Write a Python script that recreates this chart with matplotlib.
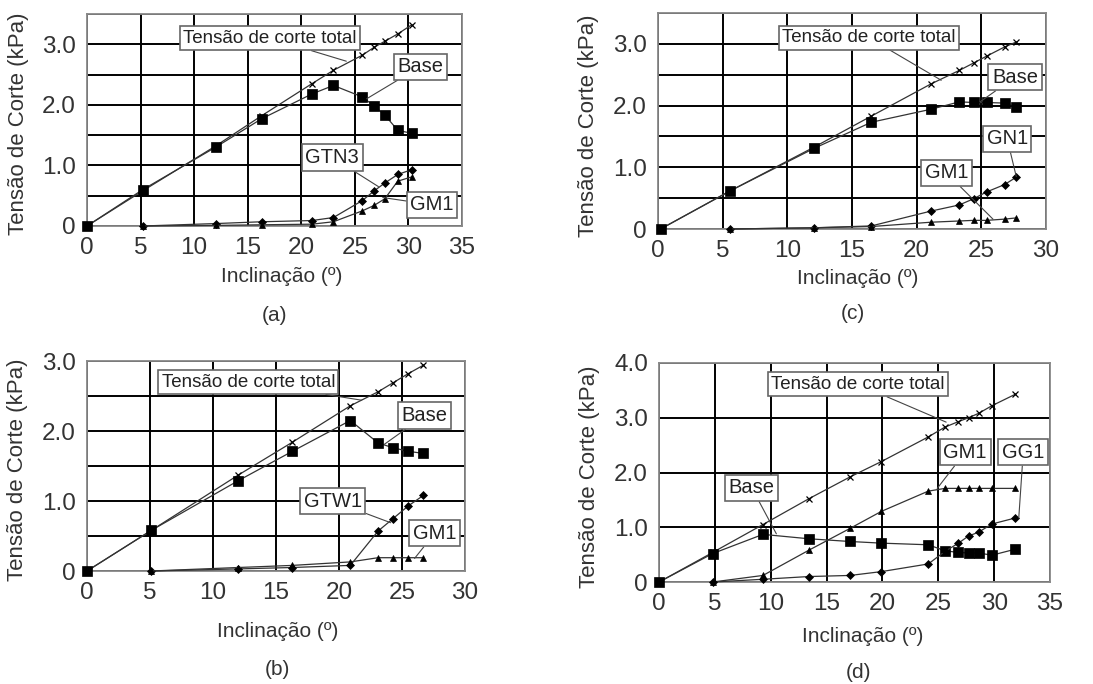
import matplotlib
matplotlib.use("Agg")
import matplotlib.pyplot as plt
from matplotlib.ticker import MultipleLocator, FixedLocator, FixedFormatter

plt.rcParams['font.family'] = ['Liberation Sans', 'DejaVu Sans']

# ---- dados (a) ----
a_x = [0, 5.2, 12, 16.3, 21, 23, 25.7, 26.8, 27.8, 29, 30.3]
a_total = [0, 0.58, 1.32, 1.82, 2.35, 2.57, 2.82, 2.95, 3.05, 3.17, 3.32]
a_base = [0, 0.6, 1.3, 1.77, 2.18, 2.32, 2.13, 1.98, 1.83, 1.58, 1.53]
a_x2 = [5.2, 12, 16.3, 21, 23, 25.7, 26.8, 27.8, 29, 30.3]
a_gtn3 = [0, 0.04, 0.07, 0.09, 0.14, 0.42, 0.58, 0.71, 0.85, 0.93]
a_gm1 = [0, 0.01, 0.02, 0.03, 0.07, 0.25, 0.34, 0.45, 0.74, 0.81]

# ---- dados (c) ----
c_x = [0.2, 5.6, 12.1, 16.5, 21.1, 23.3, 24.4, 25.4, 26.8, 27.7]
c_total = [0, 0.62, 1.33, 1.83, 2.35, 2.57, 2.69, 2.8, 2.95, 3.03]
c_base = [0, 0.62, 1.31, 1.73, 1.94, 2.06, 2.05, 2.05, 2.04, 1.97]
c_x2 = [5.6, 12.1, 16.5, 21.1, 23.3, 24.4, 25.4, 26.8, 27.7]
c_gn1 = [0, 0.02, 0.05, 0.29, 0.39, 0.49, 0.6, 0.72, 0.84]
c_gm1 = [0, 0.02, 0.04, 0.11, 0.13, 0.14, 0.14, 0.16, 0.18]

# ---- dados (b) ----
b_x = [0, 5.1, 12, 16.3, 20.9, 23.1, 24.3, 25.5, 26.7]
b_total = [0, 0.58, 1.37, 1.84, 2.36, 2.56, 2.69, 2.82, 2.94]
b_base = [0, 0.58, 1.29, 1.71, 2.15, 1.83, 1.76, 1.71, 1.68]
b_x2 = [5.1, 12, 16.3, 20.9, 23.1, 24.3, 25.5, 26.7]
b_gtw1 = [0, 0.03, 0.05, 0.08, 0.57, 0.75, 0.93, 1.08]
b_gm1 = [0, 0.05, 0.08, 0.13, 0.19, 0.19, 0.19, 0.19]

# ---- dados (d) ----
d_x = [0, 4.8, 9.3, 13.4, 17.1, 19.9, 24.1, 25.6, 26.8, 27.7, 28.6, 29.8, 31.9]
d_total = [0, 0.54, 1.05, 1.52, 1.92, 2.2, 2.65, 2.83, 2.93, 3.0, 3.08, 3.22, 3.43]
d_base = [0, 0.52, 0.87, 0.79, 0.74, 0.71, 0.68, 0.57, 0.54, 0.53, 0.53, 0.49, 0.6]
d_x2 = [4.8, 9.3, 13.4, 17.1, 19.9, 24.1, 25.6, 26.8, 27.7, 28.6, 29.8, 31.9]
d_gm1 = [0, 0.12, 0.58, 0.98, 1.29, 1.66, 1.71, 1.71, 1.71, 1.71, 1.71, 1.71]
d_gg1 = [0, 0.05, 0.1, 0.12, 0.19, 0.33, 0.56, 0.71, 0.84, 0.91, 1.06, 1.17]

txt = '#222222'
lc = '#333333'

fig = plt.figure(figsize=(10.93, 6.84), dpi=100)


def painel(rect, xmax, ymax, yminor, letra, lab_y, lab_x, cap):
    ax = fig.add_axes(rect)
    ax.set_xlim(0, xmax)
    ax.set_ylim(0, ymax)
    ax.xaxis.set_major_locator(MultipleLocator(5))
    yt = list(range(0, int(ymax) + 1))
    ax.yaxis.set_major_locator(FixedLocator(yt))
    ax.yaxis.set_major_formatter(FixedFormatter(['0'] + ['%.1f' % v for v in yt[1:]]))
    if yminor:
        ax.yaxis.set_minor_locator(MultipleLocator(0.5))
        ax.grid(True, which='minor', axis='y', color='black', lw=1.4)
    ax.grid(True, which='major', color='black', lw=1.4)
    ax.set_axisbelow(True)
    ax.tick_params(which='both', length=0, labelsize=17.5, labelcolor='#333333', pad=8)
    for s in ax.spines.values():
        s.set_color('#888888')
        s.set_linewidth(1.3)
    ax.set_ylabel('Tensão de Corte (kPa)', fontsize=16, color='#333333')
    ax.set_xlabel('Inclinação (º)', fontsize=15, color='#333333')
    ax.yaxis.label.set_va('center')
    ax.xaxis.label.set_va('center')
    ax.yaxis.set_label_coords(lab_y, 0.48)
    ax.xaxis.set_label_coords(lab_x[0], lab_x[1])
    ax.text(cap[0], cap[1], letra, transform=ax.transAxes, ha='center', va='center',
            fontsize=15, color='#333333')
    return ax


def serie(ax, x, y, m, ms):
    ax.plot(x, y, color=lc, lw=0.9, marker=m, ms=ms, mfc='black', mec='black',
            mew=0.9 if m == 'x' else 0.5, clip_on=False, zorder=3)


def rotulo(ax, s, xy, xytext, fs=14.5):
    ax.annotate(s, xy=xy, xytext=xytext, ha='center', va='center', fontsize=fs,
                color=txt, annotation_clip=False, zorder=5,
                bbox=dict(boxstyle='square,pad=0.18', fc='white', ec='#666666', lw=1.2),
                arrowprops=dict(arrowstyle='-', color='#444444', lw=0.8,
                                shrinkA=0, shrinkB=0))


# (a)
ax = painel([0.0796, 0.6696, 0.3431, 0.310], 35, 3.5, True, '(a)', -0.184, (0.52, -0.236), (0.50, -0.42))
serie(ax, a_x, a_total, 'x', 5)
serie(ax, a_x, a_base, 's', 6.5)
serie(ax, a_x2, a_gtn3, 'D', 4)
serie(ax, a_x2, a_gm1, '^', 4.5)
rotulo(ax, 'Tensão de corte total', (24.2, 2.72), (17.1, 3.1), 13.5)
rotulo(ax, 'Base', (26.1, 2.1), (31.1, 2.63))
rotulo(ax, 'GTN3', (27.2, 0.65), (22.9, 1.13))
rotulo(ax, 'GM1', (27.6, 0.47), (32.2, 0.35))

# (c)
ax = painel([0.602, 0.6652, 0.355, 0.3158], 30, 3.5, True, '(c)', -0.178, (0.515, -0.227), (0.503, -0.389))
serie(ax, c_x, c_total, 'x', 5)
serie(ax, c_x, c_base, 's', 6.5)
serie(ax, c_x2, c_gn1, 'D', 4)
serie(ax, c_x2, c_gm1, '^', 4.5)
rotulo(ax, 'Tensão de corte total', (21.9, 2.41), (16.3, 3.1), 13.5)
rotulo(ax, 'Base', (24.9, 2.06), (27.6, 2.46))
rotulo(ax, 'GN1', (27.7, 0.85), (27.0, 1.46))
rotulo(ax, 'GM1', (25.9, 0.16), (22.3, 0.91))

# (b)
ax = painel([0.0796, 0.1652, 0.3458, 0.307], 30, 3.0, True, '(b)', -0.183, (0.505, -0.29), (0.505, -0.471))
serie(ax, b_x, b_total, 'x', 5)
serie(ax, b_x, b_base, 's', 6.5)
serie(ax, b_x2, b_gtw1, 'D', 4)
serie(ax, b_x2, b_gm1, '^', 4.5)
rotulo(ax, 'Tensão de corte total', (21.8, 2.44), (12.8, 2.70), 13.5)
rotulo(ax, 'Base', (23.6, 1.81), (26.8, 2.22))
rotulo(ax, 'GTW1', (24.1, 0.69), (19.5, 1.0))
rotulo(ax, 'GM1', (26.0, 0.18), (27.6, 0.54))

# (d)
ax = painel([0.603, 0.1491, 0.3577, 0.3202], 35, 4.0, False, '(d)', -0.179, (0.52, -0.251), (0.509, -0.411))
serie(ax, d_x, d_total, 'x', 5)
serie(ax, d_x, d_base, 's', 6.5)
serie(ax, d_x2, d_gm1, '^', 4.5)
serie(ax, d_x2, d_gg1, 'D', 4)
rotulo(ax, 'Tensão de corte total', (25.7, 2.92), (17.8, 3.61), 13.5)
rotulo(ax, 'GM1', (24.9, 1.71), (27.4, 2.37))
rotulo(ax, 'GG1', (32.2, 1.17), (32.6, 2.37))
rotulo(ax, 'Base', (10.5, 0.88), (8.3, 1.72))

fig.savefig('out.png', dpi=100, facecolor='white')
